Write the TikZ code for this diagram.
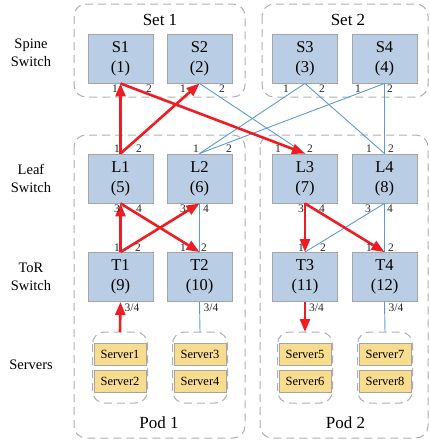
\documentclass[tikz,border=0pt]{standalone}
\usepackage{fontspec}
\setmainfont{Liberation Serif}
\usetikzlibrary{arrows.meta}

\definecolor{swfill}{HTML}{B9CDE5}
\definecolor{swdraw}{HTML}{A5A5A5}
\definecolor{srvfill}{HTML}{F9DD8E}
\definecolor{grpdash}{HTML}{AFAFAF}
\definecolor{linkblue}{HTML}{5B9BD5}
\definecolor{flowred}{HTML}{EE1D23}

\tikzset{
  switchbox/.style={draw=swdraw, line width=0.9pt, fill=swfill,
    minimum width=65pt, minimum height=49pt, inner sep=0pt, align=center,
    font=\fontsize{16.5}{20}\selectfont},
  serverbox/.style={draw=swdraw, line width=0.9pt, fill=srvfill,
    minimum width=52pt, minimum height=22pt, inner sep=0pt,
    font=\fontsize{12.5}{14}\selectfont},
  dashgroup/.style={draw=grpdash, line width=1pt, dash pattern=on 8pt off 5pt,
    rounded corners=12pt},
  port/.style={inner sep=0pt, font=\fontsize{11.5}{12}\selectfont, text=black!85},
  rowlabel/.style={align=center, font=\fontsize{14.5}{18}\selectfont},
  grouptitle/.style={font=\fontsize{17}{20}\selectfont},
  bluelink/.style={draw=linkblue, line width=0.9pt},
  redflow/.style={draw=flowred, line width=2.6pt,
    -{Triangle[length=13pt,width=10pt]}},
}

\begin{document}
\begin{tikzpicture}[x=1pt,y=-1pt]
\useasboundingbox (0,0) rectangle (430,445);

% spine sets and pods
\draw[dashgroup] (74,4) rectangle (245,97);
\draw[dashgroup] (262,4) rectangle (428,97);
\draw[dashgroup] (74,135) rectangle (245,438);
\draw[dashgroup] (260,135) rectangle (428,438);

\node[grouptitle] (set1) at (160,20) {Set 1};
\node[grouptitle] (set2) at (348,20) {Set 2};
\node[grouptitle] (pod1) at (159,423) {Pod 1};
\node[grouptitle] (pod2) at (345.5,423) {Pod 2};

% row labels
\node[rowlabel] (lspine) at (31,53) {Spine\\Switch};
\node[rowlabel] (lleaf) at (31,178) {Leaf\\Switch};
\node[rowlabel] (ltor) at (31,277) {ToR\\Switch};
\node[rowlabel] (lsrv) at (31,365) {Servers};

% switches
\node[switchbox] (S1) at (120.5,58.5) {S1\\(1)};
\node[switchbox] (S2) at (199.5,58.5) {S2\\(2)};
\node[switchbox] (S3) at (305,58.5) {S3\\(3)};
\node[switchbox] (S4) at (384.5,58.5) {S4\\(4)};

\node[switchbox] (L1) at (120.5,178.5) {L1\\(5)};
\node[switchbox] (L2) at (199.5,178.5) {L2\\(6)};
\node[switchbox] (L3) at (305,178.5) {L3\\(7)};
\node[switchbox] (L4) at (384.5,178.5) {L4\\(8)};

\node[switchbox] (T1) at (120.5,277) {T1\\(9)};
\node[switchbox] (T2) at (199.5,277) {T2\\(10)};
\node[switchbox] (T3) at (305,277) {T3\\(11)};
\node[switchbox] (T4) at (384.5,277) {T4\\(12)};

% server groups
\foreach \g/\cx/\a/\b in {G1/120/1/2, G2/200/3/4, G3/305/5/6, G4/385/7/8}{
  \draw[dashgroup] (\cx-27.5,332) rectangle (\cx+27.5,403);
  \coordinate (\g) at (\cx,332);
  \node[serverbox] (\g a) at (\cx,354) {Server\a};
  \node[serverbox] (\g b) at (\cx,381.5) {Server\b};
}

% spine -- leaf links
\draw[bluelink] (S2.south) -- (L3.north);
\draw[bluelink] (S3.south) -- (L2.north);
\draw[bluelink] (S3.south) -- (L4.north);
\draw[bluelink] (S4.south) -- (L2.north);
\draw[bluelink] (S4.south) -- (L4.north);
\draw[redflow] (L1.north) -- (S1.south);
\draw[redflow] (L1.north) -- (S2.south);
\draw[redflow] (S1.south) -- (L3.north);

% leaf -- ToR links
\draw[bluelink] (L2.south) -- (T2.north);
\draw[bluelink] (L4.south) -- (T3.north);
\draw[bluelink] (L4.south) -- (T4.north);
\draw[redflow] (T1.north) -- (L1.south);
\draw[redflow] (L1.south) -- (T2.north);
\draw[redflow] (T1.north) -- (L2.south);
\draw[redflow] (L3.south) -- (T3.north);
\draw[redflow] (L3.south) -- (T4.north);

% ToR -- server links
\draw[redflow] (G1) -- (T1.south);
\draw[bluelink] (T2.south) -- (G2);
\draw[redflow] (T3.south) -- (G3);
\draw[bluelink] (T4.south) -- (G4);

% port numbers
\foreach \x/\t in {115/1, 149/2, 183/1, 222/2, 286/1, 322/2, 358/1, 390/2}
  \node[port] at (\x,89) {\t};
\foreach \x/\t in {117/1, 139/2, 196/1, 229/2, 278/1, 310/2, 369/1, 391/2}
  \node[port] at (\x,148.5) {\t};
\foreach \x/\t in {117/3, 139/4, 183/3, 206/4, 301/3, 322/4, 368/3, 390/4}
  \node[port] at (\x,209) {\t};
\foreach \x/\t in {117/1, 138/2, 183/1, 204/2, 301/1, 323/2, 369/1, 391/2}
  \node[port] at (\x,247.5) {\t};
\foreach \x in {132,211,316.5,396}
  \node[port] at (\x,307.5) {3/4};
\end{tikzpicture}
\end{document}
